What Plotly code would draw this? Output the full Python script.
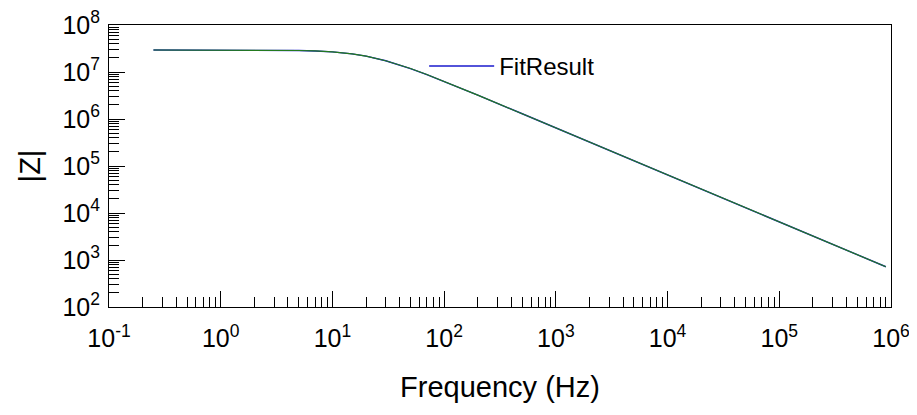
import plotly.graph_objects as go

# Frequency (Hz) and impedance magnitude
freq = [0.25, 0.5, 1, 2, 3, 5, 7, 10, 15, 20, 30, 50, 70, 100, 200, 500,
        1e3, 2e3, 5e3, 1e4, 2e4, 5e4, 1e5, 2e5, 5e5, 9e5]
z_data = [2.94e7, 2.94e7, 2.937e7, 2.928e7, 2.913e7, 2.867e7, 2.802e7, 2.676e7,
          2.429e7, 2.176e7, 1.739e7, 1.184e7, 8.82e6, 6.32e6, 3.215e6, 1.292e6,
          6.47e5, 3.234e5, 1.294e5, 6.47e4, 3.235e4, 1.294e4, 6470, 3235, 1294, 719]
z_fit = [2.94e7, 2.94e7, 2.937e7, 2.928e7, 2.913e7, 2.867e7, 2.802e7, 2.676e7,
         2.429e7, 2.176e7, 1.739e7, 1.184e7, 8.82e6, 6.32e6, 3.215e6, 1.292e6,
         6.47e5, 3.234e5, 1.294e5, 6.47e4, 3.235e4, 1.294e4, 6470, 3235, 1294, 719]

x_exps = [-1, 0, 1, 2, 3, 4, 5, 6]
y_exps = [2, 3, 4, 5, 6, 7, 8]

x_tickvals = [10.0 ** e for e in x_exps]
x_ticktext = ["10<sup>%d</sup>" % e for e in x_exps]
y_tickvals = [10.0 ** e for e in y_exps]
y_ticktext = ["10<sup>%d</sup>" % e for e in y_exps]
x_minor = [m * 10.0 ** e for e in x_exps[:-1] for m in range(2, 10)]
y_minor = [m * 10.0 ** e for e in y_exps[:-1] for m in range(2, 10)]

font_family = "Liberation Sans, Arial, sans-serif"

fig = go.Figure()
fig.add_trace(go.Scatter(x=freq, y=z_fit, mode="lines", name="FitResult",
                         line=dict(color="#1a1acc", width=1.4)))
fig.add_trace(go.Scatter(x=freq, y=z_data, mode="lines", name="Data",
                         showlegend=False,
                         line=dict(color="#237a1e", width=1.2)))

axis_common = dict(
    type="log",
    tickmode="array",
    ticks="inside",
    ticklen=16,
    tickwidth=1,
    tickcolor="black",
    showline=True,
    linecolor="black",
    linewidth=1,
    mirror=True,
    showgrid=False,
    zeroline=False,
    automargin=False,
    ticklabeloverflow="allow",
    tickfont=dict(family=font_family, size=25, color="black"),
)

fig.update_xaxes(
    **axis_common,
    range=[-1, 6],
    tickvals=x_tickvals,
    ticktext=x_ticktext,
    minor=dict(tickmode="array", tickvals=x_minor, ticks="inside", ticklen=10,
               tickcolor="black", showgrid=False),
    ticklabelstandoff=9,
    title=dict(text="Frequency (Hz)", font=dict(family=font_family, size=29, color="black"),
               standoff=25),
)
fig.update_yaxes(
    **axis_common,
    range=[2, 8],
    tickvals=y_tickvals,
    ticktext=y_ticktext,
    minor=dict(tickmode="array", tickvals=y_minor, ticks="inside", ticklen=10,
               tickcolor="black", showgrid=False),
    ticklabelstandoff=3,
    title=dict(text="|Z|", font=dict(family=font_family, size=29, color="black"),
               standoff=13),
)

# page body has an 8px margin, so the figure is offset by 8px in the window
fig.update_layout(
    width=909,
    height=407,
    margin=dict(l=101, r=26, t=17, b=108, autoexpand=False),
    paper_bgcolor="white",
    plot_bgcolor="white",
    showlegend=True,
    legend=dict(x=0.403, y=0.933, xanchor="left", yanchor="top",
                itemwidth=65,
                bgcolor="rgba(0,0,0,0)", borderwidth=0,
                font=dict(family=font_family, size=24, color="black")),
)

fig.write_html("out.html")
